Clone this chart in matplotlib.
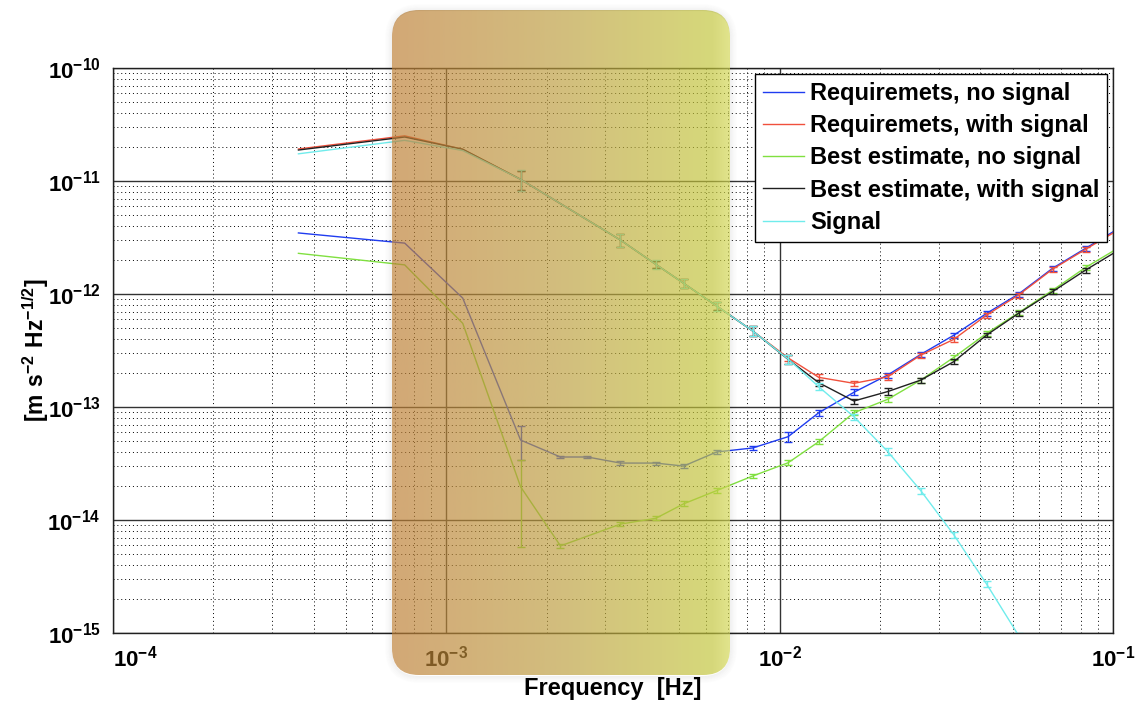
import numpy as np
import matplotlib
matplotlib.use("Agg")
import matplotlib.pyplot as plt
from matplotlib.patches import FancyBboxPatch
from matplotlib.ticker import FixedLocator, FixedFormatter, LogLocator, NullFormatter

plt.rcParams["font.family"] = ["Liberation Sans", "DejaVu Sans"]
plt.rcParams["mathtext.fontset"] = "custom"
plt.rcParams["mathtext.rm"] = "Liberation Sans"
plt.rcParams["mathtext.bf"] = "Liberation Sans:bold"

# ------------------------------------------------------------
# data
# ------------------------------------------------------------
freq = [3.6e-4, 7.5e-4, 1.12e-3, 1.67e-3, 2.2e-3, 2.65e-3, 3.33e-3, 4.25e-3,
        5.15e-3, 6.47e-3, 8.3e-3, 1.06e-2, 1.31e-2, 1.67e-2, 2.11e-2, 2.65e-2,
        3.33e-2, 4.18e-2, 5.21e-2, 6.59e-2, 8.28e-2, 1.055e-1]

req_no_sig = [3.47e-12, 2.82e-12, 9.2e-13, 5.1e-14, 3.61e-14, 3.61e-14, 3.19e-14, 3.19e-14,
              3.0e-14, 4.0e-14, 4.34e-14, 5.46e-14, 8.9e-14, 1.35e-13, 1.92e-13, 2.92e-13,
              4.32e-13, 6.75e-13, 1.0e-12, 1.69e-12, 2.54e-12, 3.9e-12]
req_sig = [1.92e-11, 2.51e-11, 1.91e-11, 1.035e-11, 6.3e-12, 4.52e-12, 3.0e-12, 1.83e-12,
           1.245e-12, 7.83e-13, 4.71e-13, 2.72e-13, 1.83e-13, 1.62e-13, 1.85e-13, 2.88e-13,
           3.97e-13, 6.52e-13, 9.8e-13, 1.66e-12, 2.49e-12, 3.8e-12]
best_no_sig = [2.29e-12, 1.81e-12, 5.5e-13, 1.97e-14, 5.9e-15, 7.2e-15, 9.2e-15, 1.035e-14,
               1.39e-14, 1.82e-14, 2.45e-14, 3.21e-14, 4.93e-14, 8.9e-14, 1.17e-13, 1.73e-13,
               2.75e-13, 4.49e-13, 6.84e-13, 1.08e-12, 1.72e-12, 2.63e-12]
best_sig = [1.88e-11, 2.45e-11, 1.91e-11, 1.035e-11, 6.3e-12, 4.52e-12, 3.0e-12, 1.83e-12,
            1.245e-12, 7.83e-13, 4.71e-13, 2.64e-13, 1.64e-13, 1.13e-13, 1.37e-13, 1.73e-13,
            2.52e-13, 4.34e-13, 6.75e-13, 1.05e-12, 1.63e-12, 2.51e-12]
signal = [1.74e-11, 2.29e-11, 1.86e-11, 1.035e-11, 6.3e-12, 4.52e-12, 3.0e-12, 1.83e-12,
          1.245e-12, 7.83e-13, 4.71e-13, 2.66e-13, 1.51e-13, 8.2e-14, 4.03e-14, 1.82e-14,
          7.4e-15, 2.7e-15, 9.5e-16, 3.4e-16, 1.2e-16, 4e-17]

# relative (symmetric) error bars, 0 = no bar
err_req_no_sig = [0, 0, 0, 0.34, 0.03, 0.03, 0.04, 0.03, 0.04, 0.05, 0.04, 0.10, 0.06, 0.06,
                  0.05, 0.05, 0.05, 0.05, 0.05, 0.05, 0.05, 0.05]
err_req_sig = [0, 0, 0, 0.19, 0.0, 0.0, 0.13, 0.08, 0.09, 0.085, 0.095, 0.06, 0.06, 0.05,
               0.06, 0.05, 0.05, 0.05, 0.05, 0.05, 0.05, 0.05]
err_best_no_sig = [0, 0, 0, 0.71, 0.04, 0.0, 0.04, 0.04, 0.05, 0.05, 0.04, 0.05, 0.05, 0.05,
                   0.05, 0.05, 0.05, 0.05, 0.05, 0.05, 0.05, 0.05]
err_best_sig = [0, 0, 0, 0.19, 0.0, 0.0, 0.13, 0.08, 0.09, 0.085, 0.095, 0.09, 0.06, 0.05,
                0.07, 0.05, 0.05, 0.05, 0.05, 0.05, 0.05, 0.05]
err_signal = [0, 0, 0, 0.21, 0.0, 0.0, 0.14, 0.09, 0.09, 0.09, 0.10, 0.09, 0.07, 0.06,
              0.07, 0.06, 0.06, 0.06, 0.06, 0.06, 0.06, 0.06]

labels = ["Requiremets, no signal", "Requiremets, with signal",
          "Best estimate, no signal", "Best estimate, with signal", "Signal"]
colors = ["#1f3cf0", "#f0503c", "#80e040", "#202020", "#70ecec"]

xticks = [1e-4, 1e-3, 1e-2, 1e-1]
xticklabels = [r"$\mathbf{10}^{\mathbf{-4}}$", r"$\mathbf{10}^{\mathbf{-3}}$",
               r"$\mathbf{10}^{\mathbf{-2}}$", r"$\mathbf{10}^{\mathbf{-1}}$"]
yticks = [1e-15, 1e-14, 1e-13, 1e-12, 1e-11, 1e-10]
yticklabels = [r"$\mathbf{10}^{\mathbf{-15}}$", r"$\mathbf{10}^{\mathbf{-14}}$",
               r"$\mathbf{10}^{\mathbf{-13}}$", r"$\mathbf{10}^{\mathbf{-12}}$",
               r"$\mathbf{10}^{\mathbf{-11}}$", r"$\mathbf{10}^{\mathbf{-10}}$"]

# ------------------------------------------------------------
# figure
# ------------------------------------------------------------
W, H = 1140, 705
fig = plt.figure(figsize=(W / 100, H / 100), dpi=100)
fig.patch.set_facecolor("white")
ax = fig.add_axes([113 / W, 1 - 633 / H, 1000 / W, 565 / H])

series = [(req_no_sig, err_req_no_sig), (req_sig, err_req_sig),
          (best_no_sig, err_best_no_sig), (best_sig, err_best_sig),
          (signal, err_signal)]
f = np.array(freq)
for (vals, rel), c, lab in zip(series, colors, labels):
    v = np.array(vals)
    e = np.array(rel)
    ax.plot(f, v, color=c, lw=1.0, label=lab)
    m = e > 0
    ax.errorbar(f[m], v[m], yerr=e[m] * v[m], fmt="none", ecolor=c,
                elinewidth=1.0, capsize=3, capthick=1.0)

ax.set_xscale("log")
ax.set_yscale("log")
ax.set_xlim(1e-4, 1e-1)
ax.set_ylim(1e-15, 1e-10)

ax.xaxis.set_major_locator(FixedLocator(xticks))
ax.xaxis.set_major_formatter(FixedFormatter(xticklabels))
ax.yaxis.set_major_locator(FixedLocator(yticks))
ax.yaxis.set_major_formatter(FixedFormatter(yticklabels))
ax.xaxis.set_minor_locator(LogLocator(base=10, subs=np.arange(2, 10), numticks=20))
ax.yaxis.set_minor_locator(LogLocator(base=10, subs=np.arange(2, 10), numticks=20))
ax.xaxis.set_minor_formatter(NullFormatter())
ax.yaxis.set_minor_formatter(NullFormatter())

ax.grid(True, which="major", color="#333333", lw=1.0, ls="-")
ax.grid(True, which="minor", color="black", lw=0.7, ls=(0, (1, 3)))
ax.set_axisbelow(True)
ax.tick_params(which="both", direction="in", length=0, labelsize=16)
ax.tick_params(axis="x", pad=9)
ax.tick_params(axis="y", pad=9)
for s in ax.spines.values():
    s.set_color("#202020")
    s.set_linewidth(1.0)

# MATLAB style: first label pushed inside
xl = ax.get_xticklabels()
xl[0].set_horizontalalignment("left")

ax.set_xlabel("Frequency  [Hz]", fontsize=17, fontweight="bold", labelpad=4)
ax.set_ylabel(r"$\mathbf{[m\ s^{-2}\ Hz^{-1/2}]}$", fontsize=16.5)
ax.yaxis.set_label_coords(-0.062, 0.5)

leg = ax.legend(loc="upper right", bbox_to_anchor=(0.994, 0.989), borderaxespad=0,
                fancybox=False, framealpha=1, edgecolor="black",
                prop={"weight": "bold", "size": 17}, handlelength=1.75,
                labelspacing=0.39, borderpad=0.33, handletextpad=0.25)
leg.get_frame().set_linewidth(1.0)

# ------------------------------------------------------------
# translucent highlight box drawn over everything
# ------------------------------------------------------------
ov = fig.add_axes([0, 0, 1, 1], zorder=10)
ov.set_xlim(0, W)
ov.set_ylim(H, 0)
ov.axis("off")
ov.patch.set_alpha(0)

bx, by, bw, bh, rad = 392, 10, 338, 665, 27
# soft glow only outside the box
for i in range(1, 8):
    sh = FancyBboxPatch((bx - i + 0.5, by - i + 1.5), bw + 2 * i - 1, bh + 2 * i - 1,
                        boxstyle=f"round,pad=0,rounding_size={rad + i}",
                        facecolor="none", edgecolor="black", lw=0.8,
                        alpha=0.05 * (8 - i) / 7)
    ov.add_patch(sh)

stops = np.array([[189, 127, 54], [189, 159, 64], [195, 198, 59], [211, 215, 86]]) / 255
pos = np.array([0.0, 0.5, 0.95, 1.0])
t = np.linspace(0, 1, 300)
grad = np.stack([np.interp(t, pos, stops[:, k]) for k in range(3)], axis=-1)
img = ov.imshow(grad[np.newaxis, :, :], extent=[bx, bx + bw, by + bh, by],
                aspect="auto", alpha=0.68, interpolation="bilinear")
clip = FancyBboxPatch((bx, by), bw, bh, boxstyle=f"round,pad=0,rounding_size={rad}",
                      facecolor="none", edgecolor="none", transform=ov.transData)
ov.add_patch(clip)
img.set_clip_path(clip)
ov.set_xlim(0, W)
ov.set_ylim(H, 0)

fig.savefig("out.png", dpi=100)
